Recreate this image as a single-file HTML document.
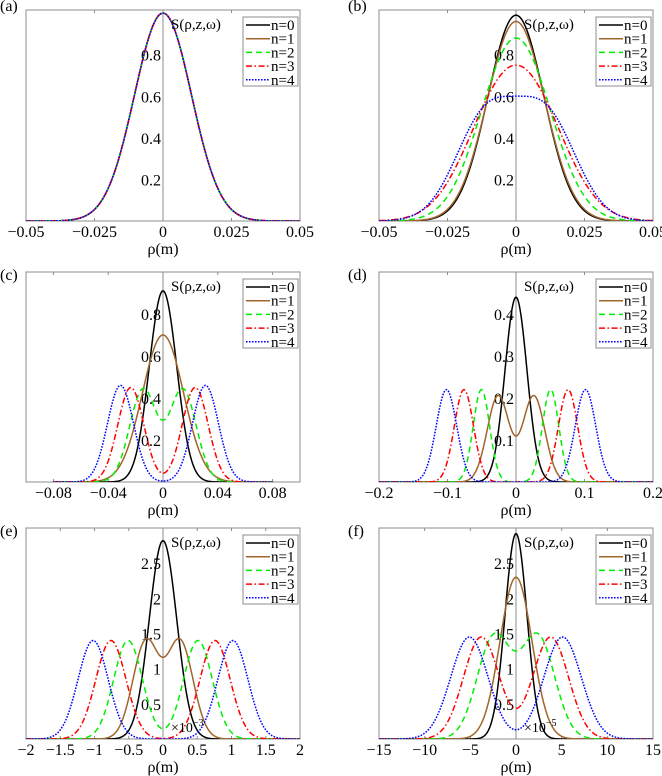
<!DOCTYPE html>
<html><head><meta charset="utf-8"><style>
body{margin:0;background:#fff}
svg{display:block}
text{font-family:"Liberation Serif","DejaVu Serif",serif}
</style></head><body>
<svg id="fig" width="662" height="776" viewBox="0 0 662 776" xmlns="http://www.w3.org/2000/svg"></svg>
<script>
// Series: each curve = height * (gauss(x-center)+gauss(x+center)) (single gauss when center 0)
const seriesNames = ["n=0","n=1","n=2","n=3","n=4"];
const aCenters=[0,0,0,0,0];             const aHeights=[1,1,1,1,1];                    const aWidths=[0.0104,0.0104,0.0104,0.0104,0.0104];
const bCenters=[0,0,0.004,0.007,0.011]; const bHeights=[0.99,0.96,0.466,0.4335,0.495]; const bWidths=[0.0102,0.0105,0.0118,0.013,0.011];
const cCenters=[0,0,0.0145,0.0235,0.031]; const cHeights=[0.91,0.70,0.44,0.45,0.46]; const cWidths=[0.010,0.015,0.0098,0.0095,0.0095];
const dCenters=[0,0.026,0.0505,0.076,0.1015]; const dHeights=[0.44,0.205,0.22,0.22,0.22]; const dWidths=[0.016,0.016,0.012,0.014,0.015];
const eCenters=[0,0.25,0.51,0.76,1.02]; const eHeights=[2.82,1.38,1.4,1.4,1.4]; const eWidths=[0.2,0.19,0.21,0.22,0.22];
const fCenters=[0,0,2.4,3.8,5.1]; const fHeights=[2.92,2.3,1.45,1.45,1.45]; const fWidths=[1.2,1.75,1.85,1.95,2.05];
const abXTicks=[-0.05,-0.025,0,0.025,0.05]; const abXLabels=["\u22120.05","\u22120.025","0","0.025","0.05"];
const cXTicks=[-0.08,-0.04,0,0.04,0.08]; const cXLabels=["\u22120.08","\u22120.04","0","0.04","0.08"];
const dXTicks=[-0.2,-0.1,0,0.1,0.2]; const dXLabels=["\u22120.2","\u22120.1","0","0.1","0.2"];
const eXTicks=[-2,-1.5,-1,-0.5,0,0.5,1,1.5,2]; const eXLabels=["\u22122","\u22121.5","\u22121","\u22120.5","0","0.5","1","1.5","2"];
const fXTicks=[-15,-10,-5,0,5,10,15]; const fXLabels=["\u221215","\u221210","\u22125","0","5","10","15"];
const unitYTicks=[0.2,0.4,0.6,0.8]; const unitYLabels=["0.2","0.4","0.6","0.8"];
const dYTicks=[0.1,0.2,0.3,0.4]; const dYLabels=["0.1","0.2","0.3","0.4"];
const efYTicks=[0.5,1,1.5,2,2.5]; const efYLabels=["0.5","1","1.5","2","2.5"];

const NS="http://www.w3.org/2000/svg";
const svg=document.getElementById('fig');
const colors=["#000000","#a0652a","#00ee00","#ff0000","#0000ff"];
const dashes=["","","6,4","6,2.5,1.5,2.5","1.6,1.4"];
const FF="'Liberation Serif', 'DejaVu Serif', serif";
function mk(tag,attrs,parent){const e=document.createElementNS(NS,tag);for(const k in attrs)e.setAttribute(k,attrs[k]);if(tag==='text')e.setAttribute('font-family',FF);(parent||svg).appendChild(e);return e;}

const panels=[
 {id:"a",L:26,T:10,R:300,B:221,x0:-0.05,x1:0.05,y1:1.015,cx:[-0.05,0.05],C:aCenters,H:aHeights,W:aWidths,xt:abXTicks,xl:abXLabels,yt:unitYTicks,yl:unitYLabels,sc:""},
 {id:"b",L:379,T:10,R:653,B:221,x0:-0.05,x1:0.05,y1:1.015,cx:[-0.05,0.05],C:bCenters,H:bHeights,W:bWidths,xt:abXTicks,xl:abXLabels,yt:unitYTicks,yl:unitYLabels,sc:""},
 {id:"c",L:26,T:272,R:300,B:482,x0:-0.1,x1:0.1,y1:1.0,cx:[-0.08,0.08],C:cCenters,H:cHeights,W:cWidths,xt:cXTicks,xl:cXLabels,yt:unitYTicks,yl:unitYLabels,sc:""},
 {id:"d",L:379,T:272,R:653,B:482,x0:-0.2,x1:0.2,y1:0.5,cx:[-0.2,0.2],C:dCenters,H:dHeights,W:dWidths,xt:dXTicks,xl:dXLabels,yt:dYTicks,yl:dYLabels,sc:""},
 {id:"e",L:26,T:528,R:300,B:739,x0:-2,x1:2,y1:3.0,cx:[-2,2],C:eCenters,H:eHeights,W:eWidths,xt:eXTicks,xl:eXLabels,yt:efYTicks,yl:efYLabels,sc:"\u00d710",ex:"\u22123"},
 {id:"f",L:379,T:528,R:653,B:739,x0:-15,x1:15,y1:3.0,cx:[-15,15],C:fCenters,H:fHeights,W:fWidths,xt:fXTicks,xl:fXLabels,yt:efYTicks,yl:efYLabels,sc:"\u00d710",ex:"\u22125"}
];

panels.forEach(p=>{
  const g=mk('g',{});
  
  
  const X=v=>p.L+(v-p.x0)/(p.x1-p.x0)*(p.R-p.L);
  const Y=v=>p.B-v/p.y1*(p.B-p.T);
  const box=mk('rect',{x:p.L,y:p.T,width:p.R-p.L,height:p.B-p.T,fill:"none",stroke:"#8c8c8c","stroke-width":1},g);
  
  
  const cl=mk('line',{x1:X(0),x2:X(0),y1:p.T,y2:p.B,stroke:"#8c8c8c","stroke-width":1},g);
  
  
  p.xt.forEach((v,i)=>{
    mk('line',{x1:X(v),x2:X(v),y1:p.T,y2:p.T+3,stroke:"#8c8c8c"},g);
    mk('line',{x1:X(v),x2:X(v),y1:p.B,y2:p.B-3,stroke:"#8c8c8c"},g);
    const t=mk('text',{x:X(v),y:p.B+16,"font-size":16,"text-anchor":"middle"},g);
    t.textContent=p.xl[i];
    
    
  });
  p.yt.forEach((v,i)=>{
    const t=mk('text',{x:X(0)-2,y:Y(v)+6,"font-size":16,"text-anchor":"end"},g);
    t.textContent=p.yl[i];
    
    
  });
  const cp=mk('clipPath',{id:"clip"+p.id},g);
  mk('rect',{x:p.L,y:p.T,width:p.R-p.L,height:p.B-p.T},cp);
  for(let k=0;k<5;k++){
    const c=p.C[k],h=p.H[k],s=p.W[k];
    const pts=[];const N=400;
    for(let i=0;i<=N;i++){
      const x=p.cx[0]+(p.cx[1]-p.cx[0])*i/N;
      let y;
      if(c===0) y=h*Math.exp(-x*x/(2*s*s));
      else y=h*(Math.exp(-(x-c)*(x-c)/(2*s*s))+Math.exp(-(x+c)*(x+c)/(2*s*s)));
      pts.push(X(x).toFixed(2)+","+Y(y).toFixed(2));
    }
    const pl=mk('polyline',{points:pts.join(" "),fill:"none",stroke:colors[k],"stroke-width":1.5,"stroke-dasharray":dashes[k],"clip-path":"url(#clip"+p.id+")"},g);
    
    
  }
  const st=mk('text',{x:X(0)+8,y:p.T+19,"font-size":15},g);
  st.textContent="S(\u03c1,z,\u03c9)";
  
  
  if(p.sc){
    const s2=mk('text',{x:X(0)+8,y:p.B-7,"font-size":14},g);
    s2.textContent=p.sc;
    
    
    const sp=mk('tspan',{dy:-6,"font-size":10},s2);
    sp.textContent=p.ex;
  }
  const xl=mk('text',{x:(p.L+p.R)/2,y:p.B+33,"font-size":16,"text-anchor":"middle"},g);
  xl.textContent="\u03c1(m)";
  
  
  const pl=mk('text',{x:p.L-(p.id==="a"||p.id==="c"||p.id==="e"?26:31),y:p.T+(p.id==="a"||p.id==="b"?1:8),"font-size":16},g);
  pl.textContent="("+p.id+")";
  
  
  const lg=mk('g',{},g);
  
  
  const lx=p.R-57, ly=p.T+7;
  mk('rect',{x:lx,y:ly,width:55,height:69,fill:"#fff",stroke:"#8c8c8c"},lg);
  for(let k=0;k<5;k++){
    const yy=ly+8+k*13.7;
    const e=mk('g',{},lg);
    
    
    mk('line',{x1:lx+3,x2:lx+27,y1:yy,y2:yy,stroke:colors[k],"stroke-width":1.5,"stroke-dasharray":dashes[k]},e);
    const t=mk('text',{x:lx+28,y:yy+5,"font-size":15},e);
    t.textContent=seriesNames[k];
  }
});
</script>
</body></html>
